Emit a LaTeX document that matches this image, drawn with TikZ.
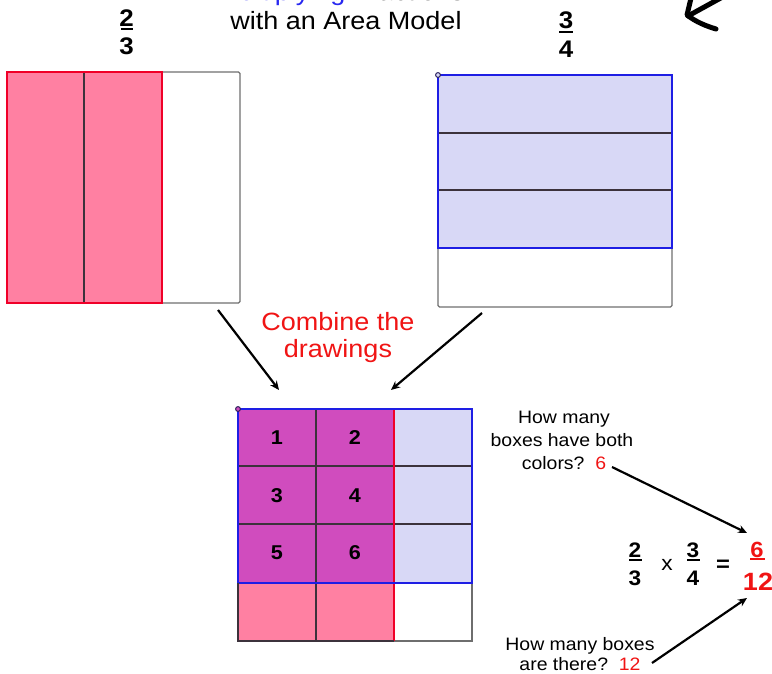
\documentclass[tikz,border=0pt]{standalone}
\usepackage{fontspec}
\setmainfont{Liberation Sans}[FakeStretch=1.08]
\usetikzlibrary{arrows.meta}

\definecolor{pinkfill}{RGB}{255,128,162}
\definecolor{lavfill}{RGB}{216,216,246}
\definecolor{magfill}{RGB}{208,76,190}
\definecolor{redline}{RGB}{240,0,40}
\definecolor{blueline}{RGB}{30,30,228}
\definecolor{gridline}{RGB}{60,50,60}
\definecolor{boxline}{RGB}{110,110,110}
\definecolor{labelred}{RGB}{240,20,20}
\definecolor{titleblue}{RGB}{40,40,240}
\definecolor{dotline}{RGB}{40,30,90}

\begin{document}
\begin{tikzpicture}[x=1pt,y=-1pt,
  txt/.style={inner sep=0pt,anchor=base},
  big/.style={txt,font=\fontsize{25}{29}\selectfont},
  small/.style={txt,font=\fontsize{18}{22}\selectfont},
  fracdigit/.style={txt,font=\fontsize{24}{28}\selectfont\bfseries},
  eqdigit/.style={txt,font=\fontsize{21}{25}\selectfont\bfseries},
  celldigit/.style={inner sep=0pt,font=\fontsize{20}{24}\selectfont\bfseries},
  fracbar/.style={line width=2pt},
  outerbox/.style={boxline,line width=1.3pt},
  divider/.style={gridline,line width=1.4pt},
  rededge/.style={redline,line width=2.5pt},
  blueedge/.style={blueline,line width=2.5pt},
  pointer/.style={-{Stealth[length=9pt,width=8pt]},line width=2.2pt},
  handstroke/.style={line width=5pt,line cap=round,line join=round}]

\useasboundingbox (0,0) rectangle (772,674);
\clip (0,0) rectangle (772,674);

% ---------- title (runs off the top edge) ----------
\node[big,anchor=base] (title) at (341,1)
  {\textcolor{titleblue}{Multiplying} Fractions};
\node[big] (subtitle) at (346,30) {with an Area Model};

% hand-drawn arrow in the corner
\draw[handstroke] (692,-6) .. controls (689,4) .. (687,15)
  .. controls (696,22) and (706,26) .. (716,29);
\draw[handstroke] (728,-6) -- (688,16);

% ---------- 2/3 label ----------
\node[fracdigit] (twoA) at (126.5,27) {2};
\draw[fracbar] (121,29) -- (133,29);
\node[fracdigit] (threeA) at (126.5,55) {3};

% ---------- 3/4 label ----------
\node[fracdigit] (threeB) at (566,29) {3};
\draw[fracbar] (559,32) -- (573,32);
\node[fracdigit] (fourB) at (566,58) {4};

% ---------- two thirds: columns ----------
\fill[pinkfill] (7,72) rectangle (162,303);
\draw[outerbox,rounded corners=1.5pt] (7,72) rectangle (240,303);
\draw[divider] (84,72) -- (84,303);
\draw[rededge] (7,72) rectangle (162,303);

% ---------- three quarters: rows ----------
\fill[lavfill] (438,75) rectangle (672,248);
\draw[outerbox,rounded corners=1.5pt] (438,75) rectangle (672,307);
\draw[divider] (438,133) -- (672,133);
\draw[divider] (438,190) -- (672,190);
\draw[blueedge] (438,75) rectangle (672,248);
\draw[dotline,fill=lavfill,line width=1pt] (438,75) circle (2.4);

% ---------- combine ----------
\node[big,text=labelred,align=center] (combine1) at (338,330) {Combine the};
\node[big,text=labelred] (combine2) at (338,357) {drawings};

\coordinate (fromLeft) at (218,310);
\coordinate (intoGridL) at (279,390);
\coordinate (fromRight) at (482,313);
\coordinate (intoGridR) at (391,390);
\draw[pointer] (fromLeft) -- (intoGridL);
\draw[pointer] (fromRight) -- (intoGridR);

% ---------- combined grid ----------
\fill[pinkfill] (238,409) rectangle (394,641);
\fill[lavfill] (394,409) rectangle (472,583);
\fill[magfill] (238,409) rectangle (394,583);
\draw[outerbox] (238,409) rectangle (472,641);
\draw[divider] (316,409) -- (316,641);
\draw[divider] (238,466) -- (472,466);
\draw[divider] (238,524) -- (472,524);
\draw[rededge] (394,409) -- (394,641);
\draw[blueedge] (238,409) rectangle (472,583);
\draw[gridline,line width=2.2pt] (238,583) -- (238,641) -- (394,641);
\draw[dotline,fill=magfill,line width=1pt] (238,409) circle (2.4);

\node[celldigit] (c1) at (277,438) {1};
\node[celldigit] (c2) at (355,438) {2};
\node[celldigit] (c3) at (277,496) {3};
\node[celldigit] (c4) at (355,496) {4};
\node[celldigit] (c5) at (277,553) {5};
\node[celldigit] (c6) at (355,553) {6};

% ---------- questions ----------
\node[small] (q1a) at (564,423) {How many};
\node[small] (q1b) at (562,446) {boxes have both};
\node[small] (q1c) at (564,469) {colors?\ \ \textcolor{labelred}{6}};
\node[small] (q2a) at (580,650) {How many boxes};
\node[small] (q2b) at (580,670) {are there?\ \ \textcolor{labelred}{12}};

% ---------- equation ----------
\node[eqdigit] (eqTwo) at (635,557) {2};
\draw[fracbar] (629,560) -- (642,560);
\node[eqdigit] (eqThree) at (635,585) {3};
\node[txt,font=\fontsize{21}{25}\selectfont] (times) at (667,570) {x};
\node[eqdigit] (eqThreeB) at (693,557) {3};
\draw[fracbar] (687,560) -- (700,560);
\node[eqdigit] (eqFour) at (693,585) {4};
\node[txt,font=\fontsize{22}{26}\selectfont\bfseries] (equals) at (723,571) {=};
\node[txt,text=labelred,font=\fontsize{22}{26}\selectfont\bfseries] (resNum) at (757,557) {6};
\draw[fracbar,labelred] (750,559) -- (765,559);
\node[txt,text=labelred,font=\fontsize{25}{29}\selectfont\bfseries] (resDen) at (758,590) {12};

\coordinate (fromSix) at (612,467);
\coordinate (toNum) at (747,533);
\coordinate (fromTwelve) at (652,663);
\coordinate (toDen) at (747,598);
\draw[pointer] (fromSix) -- (toNum);
\draw[pointer] (fromTwelve) -- (toDen);

\end{tikzpicture}
\end{document}
